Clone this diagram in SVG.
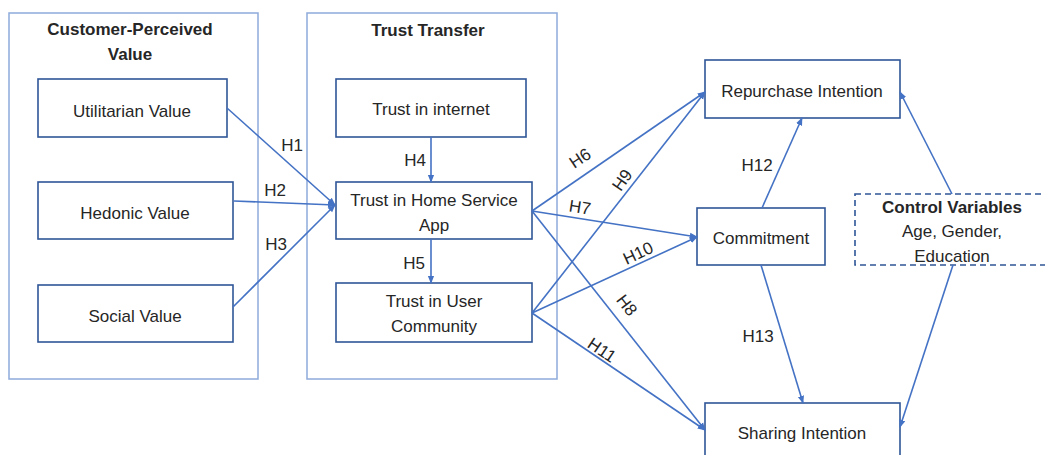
<svg xmlns="http://www.w3.org/2000/svg" width="1045" height="455" viewBox="0 0 1045 455">
<defs>
<style>
text{font-family:"Liberation Sans",Arial,sans-serif;fill:#262626;}
.t{font-size:17px;text-anchor:middle;}
.b{font-size:17px;font-weight:bold;text-anchor:middle;}
.h{font-size:17px;text-anchor:middle;}
.frame{fill:none;stroke:#8FAADC;stroke-width:1.5;}
.node{fill:#fff;stroke:#2F5597;stroke-width:1.6;}
.dash{fill:#fff;stroke:#2F5597;stroke-width:1.6;stroke-dasharray:6 4;}
.c{fill:none;stroke:#4472C4;stroke-width:1.6;marker-end:url(#ah);}
</style>
<marker id="ah" viewBox="0 0 10 10" refX="9" refY="5" markerUnits="userSpaceOnUse" markerWidth="8" markerHeight="8" orient="auto">
<path d="M0,1 L10,5 L0,9 z" fill="#4472C4"/>
</marker>
</defs>
<rect width="1045" height="455" fill="#fff"/>
<g id="frame-cpv">
<rect class="frame" x="9" y="13" width="249" height="366"/>
<text class="b" x="130" y="35">Customer-Perceived</text>
<text class="b" x="130" y="60">Value</text>
</g>
<g id="frame-tt">
<rect class="frame" x="307" y="13" width="250" height="366"/>
<text class="b" x="428" y="36">Trust Transfer</text>
</g>
<g id="utilitarian"><rect class="node" x="38" y="79" width="189" height="58"/><text class="t" x="132" y="117">Utilitarian Value</text></g>
<g id="hedonic"><rect class="node" x="38" y="182" width="195" height="57"/><text class="t" x="135" y="219">Hedonic Value</text></g>
<g id="social"><rect class="node" x="38" y="285" width="195" height="57"/><text class="t" x="135" y="322">Social Value</text></g>
<g id="trust-internet"><rect class="node" x="336" y="79" width="190" height="58"/><text class="t" x="431" y="115">Trust in internet</text></g>
<g id="trust-app"><rect class="node" x="336" y="182" width="196" height="57"/><text class="t" x="434" y="206">Trust in Home Service</text><text class="t" x="434" y="231">App</text></g>
<g id="trust-community"><rect class="node" x="336" y="283" width="196" height="59"/><text class="t" x="434" y="307">Trust in User</text><text class="t" x="434" y="332">Community</text></g>
<g id="repurchase"><rect class="node" x="705" y="60" width="195" height="58"/><text class="t" x="802" y="97">Repurchase Intention</text></g>
<g id="commitment"><rect class="node" x="697" y="208" width="128" height="57"/><text class="t" x="761" y="244">Commitment</text></g>
<g id="sharing"><rect class="node" x="705" y="403" width="195" height="60"/><text class="t" x="802" y="439">Sharing Intention</text></g>
<g id="control"><rect class="dash" x="855" y="194" width="200" height="71"/><text class="b" x="952" y="213">Control Variables</text><text class="t" x="952" y="237">Age, Gender,</text><text class="t" x="952" y="262">Education</text></g>
<g id="connectors">
<line class="c" x1="227" y1="108" x2="335" y2="205"/>
<line class="c" x1="234" y1="201" x2="335" y2="205"/>
<line class="c" x1="233" y1="307" x2="335" y2="205"/>
<line class="c" x1="431" y1="137" x2="431" y2="182"/>
<line class="c" x1="431" y1="239" x2="431" y2="283"/>
<line class="c" x1="532" y1="211" x2="705" y2="92"/>
<line class="c" x1="532" y1="211" x2="697" y2="237"/>
<line class="c" x1="532" y1="211" x2="705" y2="430"/>
<line class="c" x1="532" y1="313" x2="705" y2="92"/>
<line class="c" x1="532" y1="313" x2="697" y2="237"/>
<line class="c" x1="532" y1="313" x2="705" y2="430"/>
<line class="c" x1="762" y1="208" x2="802" y2="118"/>
<line class="c" x1="761" y1="265" x2="803" y2="403"/>
<line class="c" x1="952" y1="194" x2="900" y2="92"/>
<line class="c" x1="953" y1="265" x2="900" y2="427"/>
<text class="h" x="292" y="151">H1</text>
<text class="h" x="275" y="196">H2</text>
<text class="h" x="276" y="250">H3</text>
<text class="h" x="415" y="166">H4</text>
<text class="h" x="414" y="269">H5</text>
<text class="h" x="757" y="171">H12</text>
<text class="h" x="758" y="342">H13</text>
<text class="h" transform="translate(580,158) rotate(-34)" y="6">H6</text>
<text class="h" transform="translate(622,180) rotate(-55)" y="6">H9</text>
<text class="h" transform="translate(580,207) rotate(9)" y="6">H7</text>
<text class="h" transform="translate(638,253) rotate(-25)" y="6">H10</text>
<text class="h" transform="translate(627,305) rotate(52)" y="6">H8</text>
<text class="h" transform="translate(602,350) rotate(34)" y="6">H11</text>
</g>
</svg>
